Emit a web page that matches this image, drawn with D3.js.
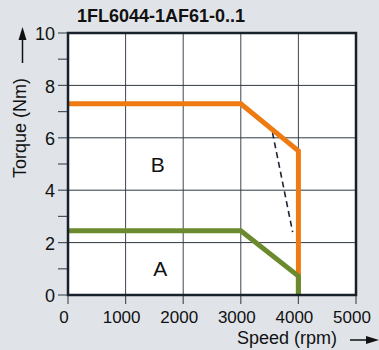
<!DOCTYPE html>
<html>
<head>
<meta charset="utf-8">
<script src="https://cdn.jsdelivr.net/npm/d3@7"></script>
<style>
  body { margin: 0; background: #e0e4e9; }
  svg { display: block; font-family: "Liberation Sans", Arial, sans-serif; }
</style>
</head>
<body>
<svg id="chart" width="379" height="350"></svg>
<script>
const title = "1FL6044-1AF61-0..1";
const speedTicks = [0, 1000, 2000, 3000, 4000, 5000];
const torqueTicks = [0, 2, 4, 6, 8, 10];
const torqueMinor = [1, 3, 5, 7, 9];

// limiting curves
const curveB = [
  { speed: 0, torque: 7.3 },
  { speed: 3000, torque: 7.3 },
  { speed: 4000, torque: 5.5 },
  { speed: 4000, torque: 0 }
];
const curveA = [
  { speed: 0, torque: 2.45 },
  { speed: 3000, torque: 2.45 },
  { speed: 4000, torque: 0.72 },
  { speed: 4000, torque: 0 }
];
const dashedCurve = [
  { speed: 3550, torque: 6.2 },
  { speed: 3900, torque: 2.4 }
];
const regionLabels = [
  { name: "B", speed: 1560, torque: 5.0 },
  { name: "A", speed: 1600, torque: 1.0 }
];

const svg = d3.select("#chart");
const margin = { top: 33, right: 23, bottom: 55, left: 68 };
const width = 379 - margin.left - margin.right;
const height = 350 - margin.top - margin.bottom;

const x = d3.scaleLinear().domain([0, 5000]).range([0, width]);
const y = d3.scaleLinear().domain([0, 10]).range([height, 0]);

const g = svg.append("g")
  .attr("transform", `translate(${margin.left},${margin.top})`);

// plot background
g.append("rect")
  .attr("width", width).attr("height", height)
  .attr("fill", "#fff");

// grid
g.selectAll(".vgrid")
  .data(speedTicks.slice(1, -1))
  .join("line")
  .attr("class", "vgrid")
  .attr("x1", d => x(d)).attr("x2", d => x(d))
  .attr("y1", 0).attr("y2", height)
  .attr("stroke", "#3d4651").attr("stroke-width", 1);

g.selectAll(".hgrid")
  .data(torqueTicks.slice(1, -1))
  .join("line")
  .attr("class", "hgrid")
  .attr("x1", 0).attr("x2", width)
  .attr("y1", d => y(d)).attr("y2", d => y(d))
  .attr("stroke", "#2f3842").attr("stroke-width", 1);

// y ticks (major + minor) outside left
g.selectAll(".ytick")
  .data(torqueTicks.concat(torqueMinor))
  .join("line")
  .attr("class", "ytick")
  .attr("x1", -10).attr("x2", 0)
  .attr("y1", d => y(d)).attr("y2", d => y(d))
  .attr("stroke", "#4a525c").attr("stroke-width", 1.2);

g.selectAll(".ylab")
  .data(torqueTicks)
  .join("text")
  .attr("class", "ylab")
  .attr("x", -13)
  .attr("y", d => y(d))
  .attr("dy", "0.4em")
  .attr("text-anchor", "end")
  .attr("font-size", 18)
  .attr("fill", "#111")
  .text(d => d);

// x ticks below
g.selectAll(".xtick")
  .data(speedTicks)
  .join("line")
  .attr("class", "xtick")
  .attr("x1", d => x(d)).attr("x2", d => x(d))
  .attr("y1", height).attr("y2", height + 9)
  .attr("stroke", "#4a525c").attr("stroke-width", 1.2);

g.selectAll(".xlab")
  .data(speedTicks)
  .join("text")
  .attr("class", "xlab")
  .attr("x", d => x(d) - 4)
  .attr("y", height + 27.5)
  .attr("text-anchor", "middle")
  .attr("font-size", 17)
  .attr("fill", "#111")
  .text(d => d);

// curves
const line = d3.line().x(d => x(d.speed)).y(d => y(d.torque));

g.append("path")
  .attr("d", line(dashedCurve))
  .attr("fill", "none")
  .attr("stroke", "#1b2430")
  .attr("stroke-width", 1.6)
  .attr("stroke-dasharray", "6,4");

g.append("path")
  .attr("d", line(curveB))
  .attr("fill", "none")
  .attr("stroke", "#ee7a12")
  .attr("stroke-width", 5)
  .attr("stroke-linejoin", "miter");

g.append("path")
  .attr("d", line(curveA))
  .attr("fill", "none")
  .attr("stroke", "#6b8a2e")
  .attr("stroke-width", 5)
  .attr("stroke-linejoin", "miter");

// frame
g.append("rect")
  .attr("width", width).attr("height", height)
  .attr("fill", "none")
  .attr("stroke", "#17202b")
  .attr("stroke-width", 2.5);

// region labels
g.selectAll(".region")
  .data(regionLabels)
  .join("text")
  .attr("class", "region")
  .attr("x", d => x(d.speed))
  .attr("y", d => y(d.torque))
  .attr("dy", "0.36em")
  .attr("text-anchor", "middle")
  .attr("font-size", 21)
  .attr("fill", "#111")
  .text(d => d.name);

// title
svg.append("text")
  .attr("x", 77).attr("y", 22)
  .attr("font-size", 18)
  .attr("font-weight", "bold")
  .attr("fill", "#111")
  .text(title);

// axis titles with arrows
svg.append("text")
  .attr("transform", "translate(25.5,128) rotate(-90)")
  .attr("text-anchor", "middle")
  .attr("font-size", 18)
  .attr("fill", "#111")
  .text("Torque (Nm)");

svg.append("line")
  .attr("x1", 22.5).attr("x2", 22.5)
  .attr("y1", 63).attr("y2", 38)
  .attr("stroke", "#111").attr("stroke-width", 1.5);
svg.append("path")
  .attr("d", "M22.5,27 L18.5,40 L26.5,40 Z")
  .attr("fill", "#111");

svg.append("text")
  .attr("x", 237).attr("y", 344)
  .attr("font-size", 18)
  .attr("fill", "#111")
  .text("Speed (rpm)");

svg.append("line")
  .attr("x1", 350).attr("x2", 368)
  .attr("y1", 340).attr("y2", 340)
  .attr("stroke", "#111").attr("stroke-width", 1.5);
svg.append("path")
  .attr("d", "M379,340 L366,336 L366,344 Z")
  .attr("fill", "#111");
</script>
</body>
</html>
